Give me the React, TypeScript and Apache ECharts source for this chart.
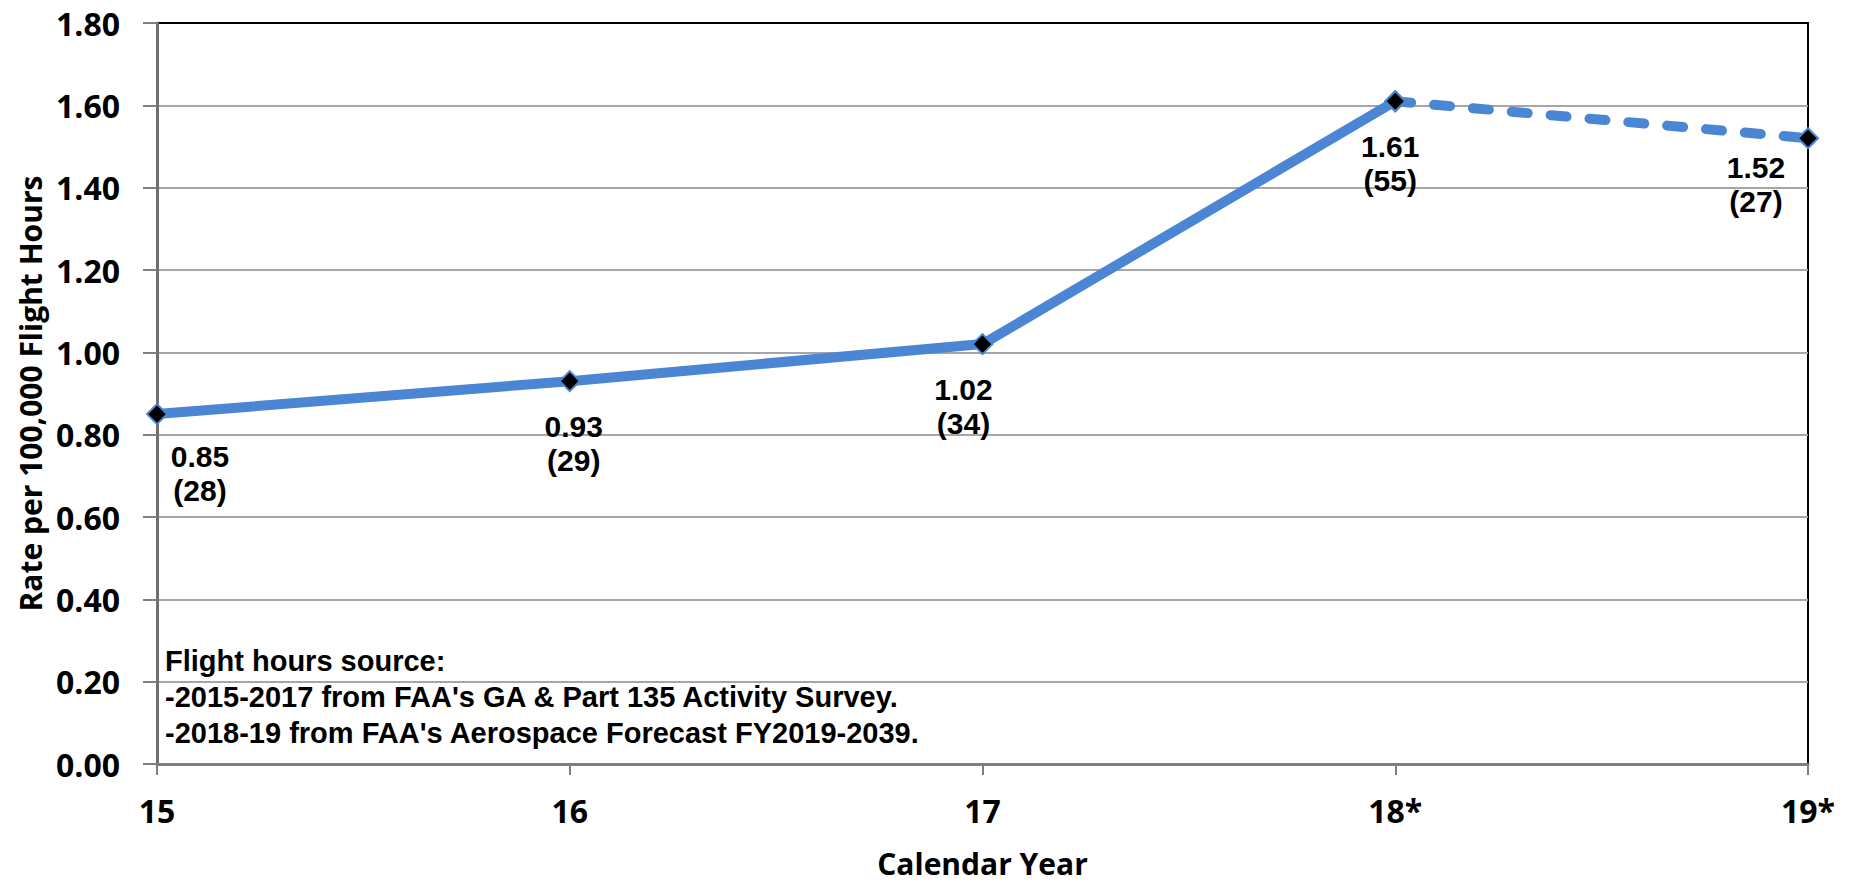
import React, { useEffect, useRef } from "react";
import * as echarts from "echarts";

const categories = ["15", "16", "17", "18*", "19*"];
const rates = [0.85, 0.93, 1.02, 1.61, 1.52];
const counts = [28, 29, 34, 55, 27];
const yTicks = { min: 0, max: 1.8, interval: 0.2 };
const noteLines = [
  "Flight hours source:",
  "-2015-2017 from FAA's GA & Part 135 Activity Survey.",
  "-2018-19 from FAA's Aerospace Forecast FY2019-2039.",
];
const labelOffsets: number[][] = [
  [43, 15],
  [4, 18],
  [-19, 18],
  [-5, 18],
  [-52, 2],
];

const BLUE = "#4a86d3";
const FONT = "'Open Sans', 'Noto Sans', sans-serif";
const LABEL_FONT = "'Liberation Sans', Arial, sans-serif";

export default function App() {
  const ref = useRef<HTMLDivElement>(null);
  useEffect(() => {
    if (!ref.current) return;
    const chart = echarts.init(ref.current, undefined, { renderer: "svg" });
    const lastSolid = 3;
    const solidData = rates.map((v, i) => (i <= lastSolid ? v : null));
    const dashData = rates.map((v, i) => (i >= lastSolid ? v : null));
    const labelData = rates.map((v, i) => ({
      value: v,
      label: { offset: labelOffsets[i] },
    }));
    const nGrid = Math.round((yTicks.max - yTicks.min) / yTicks.interval) + 1;
    const splitColors = Array.from({ length: nGrid }, (_, i) =>
      i === nGrid - 1 ? "#000000" : "#a6a6a6"
    );
    chart.setOption({
      animation: false,
      backgroundColor: "#ffffff",
      grid: {
        left: 157,
        right: 50,
        top: 23,
        bottom: 116,
        show: true,
        borderColor: "#000000",
        borderWidth: 2,
      },
      xAxis: {
        type: "category",
        data: categories,
        boundaryGap: false,
        name: "Calendar Year",
        nameLocation: "middle",
        nameGap: 84,
        nameTextStyle: { fontFamily: FONT, fontWeight: "bold", fontSize: 30, color: "#000" },
        axisLine: { lineStyle: { color: "#7f7f7f", width: 3 } },
        axisTick: { show: true, length: 11, lineStyle: { color: "#7f7f7f", width: 2 } },
        axisLabel: { margin: 30, fontFamily: FONT, fontWeight: "bold", fontSize: 32, color: "#000" },
        splitLine: { show: false },
      },
      yAxis: {
        type: "value",
        min: yTicks.min,
        max: yTicks.max,
        interval: yTicks.interval,
        name: "Rate per 100,000 Flight Hours",
        nameLocation: "middle",
        nameGap: 108,
        nameTextStyle: { fontFamily: FONT, fontWeight: "bold", fontSize: 30, color: "#000" },
        axisLine: { show: true, lineStyle: { color: "#6f6f6f", width: 3 } },
        axisTick: { show: true, length: 14, lineStyle: { color: "#7f7f7f", width: 2 } },
        axisLabel: {
          margin: 37,
          fontFamily: FONT,
          fontWeight: "bold",
          fontSize: 32,
          color: "#000",
          formatter: (v: number) => v.toFixed(2),
        },
        splitLine: { show: true, lineStyle: { color: splitColors, width: 2 } },
      },
      series: [
        {
          type: "line",
          data: dashData,
          symbol: "diamond",
          symbolSize: 20,
          itemStyle: { color: "#000", borderColor: BLUE, borderWidth: 2 },
          lineStyle: { color: BLUE, width: 10, type: [16, 23], cap: "round" },
          z: 3,
        },
        {
          type: "line",
          data: solidData,
          symbol: "diamond",
          symbolSize: 20,
          itemStyle: { color: "#000", borderColor: BLUE, borderWidth: 2 },
          lineStyle: { color: BLUE, width: 10 },
          z: 4,
        },
        {
          type: "line",
          data: labelData,
          symbol: "circle",
          symbolSize: 20,
          showSymbol: true,
          itemStyle: { color: "rgba(0,0,0,0)", borderWidth: 0 },
          lineStyle: { width: 0, opacity: 0 },
          silent: true,
          label: {
            show: true,
            position: "bottom",
            distance: 0,
            fontFamily: LABEL_FONT,
            fontWeight: "bold",
            fontSize: 30,
            lineHeight: 34,
            color: "#000",
            formatter: (p: any) => `${rates[p.dataIndex].toFixed(2)}\n(${counts[p.dataIndex]})`,
          },
          z: 5,
        },
      ],
      graphic: noteLines.map((t, i) => ({
        type: "text",
        left: 165,
        top: 646 + i * 36,
        style: {
          text: t,
          font: "bold 29px 'Liberation Sans', Arial, sans-serif",
          fill: "#000",
        },
        z: 10,
      })),
    });
    return () => chart.dispose();
  }, []);
  return (
    <div
      ref={ref}
      style={{ position: "fixed", left: 0, top: 0, width: 1858, height: 883 }}
    />
  );
}
